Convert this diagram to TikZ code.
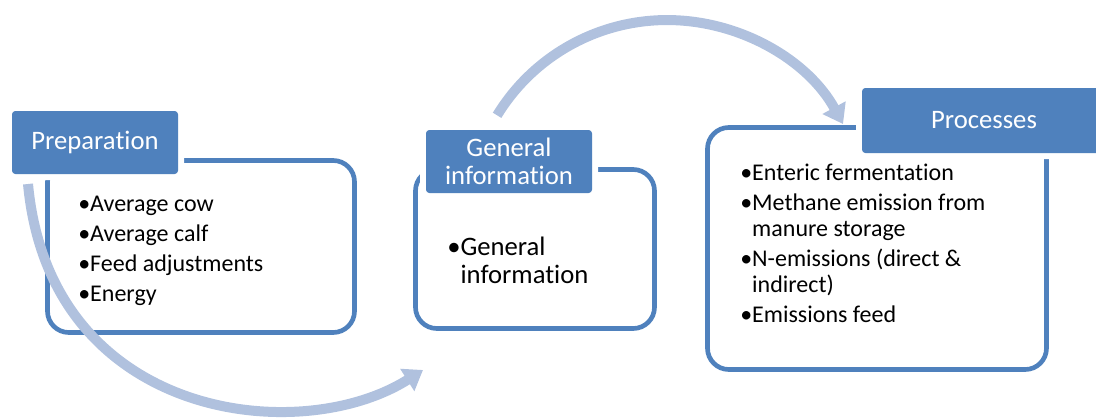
\documentclass[tikz,border=0pt]{standalone}
\usepackage{fontspec}
\setmainfont{Carlito}[RawFeature={-liga;-clig;-calt}]
\usetikzlibrary{arrows.meta}
\definecolor{accent}{HTML}{4F81BD}
\definecolor{flowc}{RGB}{176,193,222}
\begin{document}
\begin{tikzpicture}[x=0.75pt,y=-0.75pt,
  box/.style={draw=accent, line width=3.5pt, rounded corners=16pt, inner sep=0pt},
  lbl/.style={fill=accent, rounded corners=2.5pt, text=white, align=center, inner sep=0pt,
    font=\fontsize{20}{21}\selectfont, preaction={draw=white, line width=9pt}},
  body/.style={align=left, inner sep=0pt, anchor=base west, font=\fontsize{18}{19.5}\selectfont},
  bigbody/.style={align=left, inner sep=0pt, anchor=base west, font=\fontsize{20}{21}\selectfont},
  flow/.style={draw=flowc, line width=7.5pt, -{Triangle[width=19pt,length=14pt]}}]
\useasboundingbox (0,0) rectangle (1096,418);
\clip (0,0) rectangle (1096,418);
% boxes
\node[box, minimum width=230.25pt, minimum height=129pt] (prepbox) at (201,246.5) {};
\node[box, minimum width=179.25pt, minimum height=119.25pt] (genbox) at (535,249) {};
\node[box, minimum width=254.25pt, minimum height=181.5pt] (procbox) at (877,248.5) {};
% labels
\node[lbl, minimum width=124.5pt, minimum height=47.25pt] (preplbl) at (95,142.5) {Preparation};
\node[lbl, minimum width=124.5pt, minimum height=47.25pt] (genlbl) at (509,161.5) {General\\information};
\node[lbl, minimum width=183pt, minimum height=48.75pt] (proclbl) at (984,120.5) {Processes};
% flow arrows
\coordinate (a1s) at (28,184);
\coordinate (a1e) at (423,370);
\draw[flow] (a1s) .. controls (50,420) and (300,448) .. (a1e);
\coordinate (a2s) at (497.1,115.3);
\coordinate (a2m) at (671.9,20.1);
\coordinate (a2e) at (843,124);
\draw[flow] (a2s) .. controls (534.1,54.6) and (600.8,18.4) .. (a2m)
  .. controls (743.0,21.8) and (808.7,61.3) .. (a2e);
% body texts (anchored at the baseline of the last line)
\node[body] (preptext) at (78,301) {•Average cow\\[3pt]•Average calf\\[3pt]•Feed adjustments\\[3pt]•Energy};
\node[bigbody] (gentext) at (447,283) {•General\\\phantom{•}information};
\node[body] (proctext) at (740,322) {•Enteric fermentation\\[3pt]•Methane emission from\\\phantom{•}manure storage\\[3pt]•N-emissions (direct \&\\\phantom{•}indirect)\\[3pt]•Emissions feed};
\end{tikzpicture}
\end{document}
